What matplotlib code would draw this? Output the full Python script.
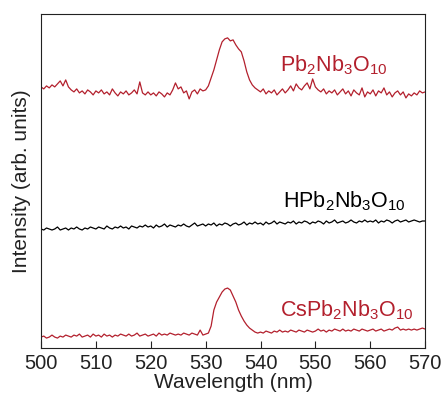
import numpy as np
import matplotlib
matplotlib.use("Agg")
import matplotlib.pyplot as plt

plt.rcParams['font.family'] = ['Liberation Sans', 'DejaVu Sans']
plt.rcParams['mathtext.fontset'] = 'custom'
plt.rcParams['mathtext.rm'] = 'Liberation Sans'
plt.rcParams['mathtext.default'] = 'regular'

# wavelength grid (nm), 0.5 nm step
wavelength = np.arange(500, 570.25, 0.5)

# Pb2Nb3O10 (top, red)
pb_nb = [261, 259, 262, 260, 263, 261, 264, 267, 262, 268,
         261, 258, 256, 259, 255, 257, 254, 258, 256, 253,
         257, 255, 258, 254, 256, 253, 259, 255, 252, 256,
         254, 257, 253, 255, 258, 254, 266, 255, 253, 256,
         253, 255, 252, 256, 254, 251, 255, 253, 258, 265,
         259, 261, 255, 257, 249, 256, 258, 254, 259, 257,
         258, 262, 270, 278, 288, 298, 306, 309, 310, 307,
         308, 303, 299, 296, 287, 276, 268, 263, 260, 258,
         256, 259, 254, 257, 255, 258, 253, 256, 259, 255,
         258, 262, 257, 264, 260, 258, 262, 265, 259, 269,
         261, 258, 256, 259, 254, 257, 255, 258, 253, 256,
         259, 254, 257, 252, 258, 255, 253, 260, 251, 256,
         254, 258, 252, 257, 255, 260, 253, 256, 251, 255,
         257, 253, 256, 250, 254, 252, 255, 253, 257, 255,
         256]

# HPb2Nb3O10 (middle, black)
hpb_nb = [119, 118, 120, 119, 118, 119, 121, 118, 119, 120,
          118, 120, 119, 121, 119, 118, 120, 119, 121, 120,
          119, 121, 120, 119, 122, 120, 119, 121, 120, 122,
          120, 121, 119, 122, 121, 120, 122, 121, 123, 121,
          122, 120, 123, 121, 122, 124, 121, 123, 122, 121,
          123, 122, 124, 122, 121, 123, 125, 122, 123, 124,
          122, 124, 123, 125, 122, 124, 123, 125, 124, 122,
          124, 125, 123, 124, 126, 123, 125, 124, 126, 124,
          125, 123, 126, 124, 125, 127, 124, 126, 125, 124,
          126, 125, 127, 124, 126, 125, 127, 126, 124, 126,
          125, 127, 126, 124, 127, 125, 126, 128, 125, 126,
          127, 125, 126, 128, 126, 125, 127, 126, 128, 126,
          127, 126, 128, 125, 127, 126, 128, 127, 125, 127,
          128, 126, 127, 128, 126, 127, 128, 127, 126, 127,
          127]

# CsPb2Nb3O10 (bottom, red)
cspb_nb = [11, 12, 10, 11, 13, 11, 10, 12, 11, 13,
           12, 11, 13, 12, 14, 11, 12, 13, 11, 14,
           12, 13, 11, 14, 12, 13, 11, 13, 12, 14,
           13, 12, 14, 12, 13, 15, 12, 13, 14, 12,
           13, 14, 12, 15, 13, 14, 13, 15, 14, 13,
           14, 13, 15, 14, 13, 15, 14, 13, 18, 13,
           14, 15, 22, 38, 46, 51, 56, 59, 60, 58,
           52, 46, 38, 32, 27, 23, 20, 18, 16, 15,
           16, 15, 17, 16, 15, 17, 16, 18, 16, 17,
           16, 18, 17, 16, 18, 17, 16, 18, 17, 16,
           17, 19, 17, 18, 16, 18, 17, 19, 18, 17,
           19, 17, 18, 17, 19, 18, 17, 19, 18, 17,
           18, 19, 17, 18, 19, 17, 18, 19, 18, 20,
           21, 18, 19, 18, 19, 18, 19, 18, 19, 20,
           19]

red = '#b3202d'

fig = plt.figure(figsize=(4.41, 3.96), dpi=100)
ax = fig.add_axes([0.093, 0.121, 0.871, 0.844])

ax.plot(wavelength, pb_nb, color=red, lw=0.9)
ax.plot(wavelength, hpb_nb, color='black', lw=0.9)
ax.plot(wavelength, cspb_nb, color=red, lw=0.9)

ax.text(543.6, 276, 'Pb$_2$Nb$_3$O$_{10}$', color=red, fontsize=15.5, va='baseline')
ax.text(544.1, 141, 'HPb$_2$Nb$_3$O$_{10}$', color='black', fontsize=15.5, va='baseline')
ax.text(543.6, 32, 'CsPb$_2$Nb$_3$O$_{10}$', color=red, fontsize=15.5, va='baseline')

ax.set_xlim(500, 570)
ax.set_ylim(0, 334)
ax.set_xticks(range(500, 571, 10))
ax.set_yticks([])
ax.tick_params(axis='x', direction='in', length=5, labelsize=14.5, colors='#222222', pad=4)
ax.set_xlabel('Wavelength (nm)', fontsize=15, labelpad=0, color='#222222')
ax.set_ylabel('Intensity (arb. units)', fontsize=15, labelpad=7, color='#222222')
for s in ax.spines.values():
    s.set_color('#222222')

fig.savefig('out.png', dpi=100)
